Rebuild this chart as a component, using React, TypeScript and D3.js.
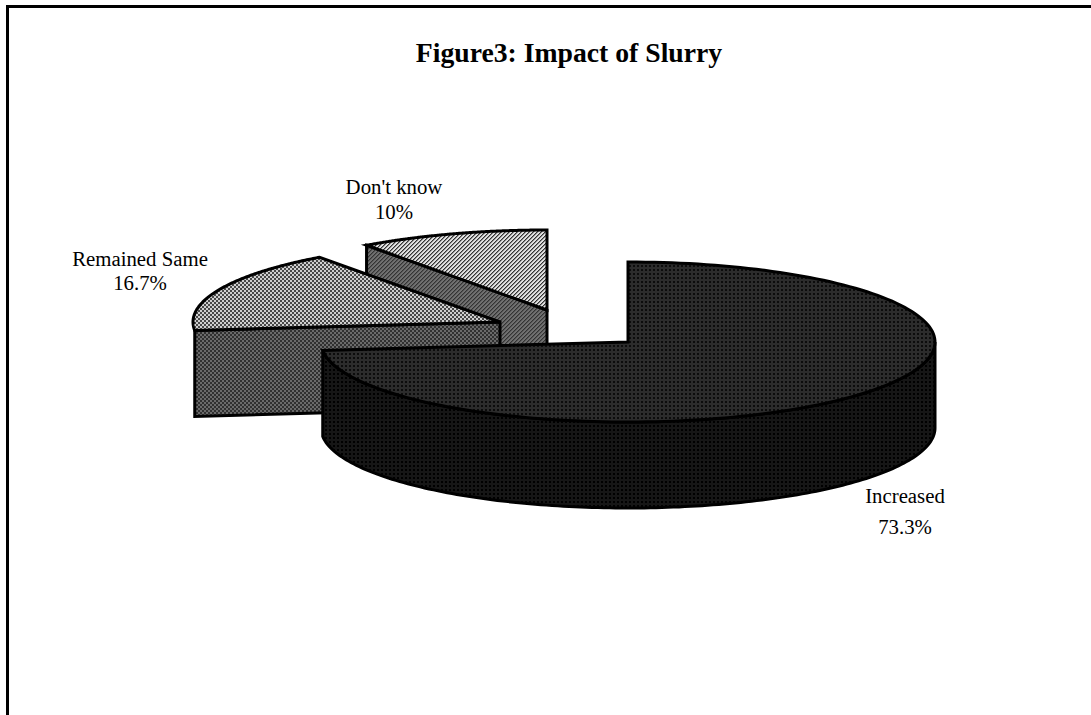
import React from "react";
import * as d3 from "d3";

const categories = ["Increased", "Remained Same", "Don't know"];
const shares = [73.3, 16.7, 10];
const valueLabels = ["73.3%", "16.7%", "10%"];
const titleText = "Figure3: Impact of Slurry";

const W = 1091;
const H = 715;
const CX = 628;
const CY = 342;
const RX = 307;
const RY = 80;
const DEPTH = 86;
const SERIF = "'Liberation Serif', 'Times New Roman', serif";

// Offsets that pull each wedge away from the pie centre
const explode = [
  { dx: 0, dy: 0 },
  { dx: -128, dy: -20 },
  { dx: -81, dy: -32 },
];

const topFill = ["url(#incTop)", "url(#sameTop)", "url(#dkTop)"];
const sideFill = ["url(#incSide)", "url(#sameSide)", "url(#dkSide)"];

const labelPos = [
  { x: 905, y1: 503, y2: 534 },
  { x: 140, y1: 266, y2: 290 },
  { x: 394, y1: 194, y2: 219 },
];

// Pie angles stay in radians, clockwise from twelve o'clock
const pie = d3.pie<number>().sort(null).value((d) => d);
const arcs = pie(shares);

const px = (a: number) => RX * Math.sin(a);
const py = (a: number) => -RY * Math.cos(a);

function topPath(start: number, end: number, ox: number, oy: number) {
  const p = d3.path();
  const cx = CX + ox;
  const cy = CY + oy;
  p.moveTo(cx, cy);
  p.lineTo(cx + px(start), cy + py(start));
  const steps = 160;
  for (let i = 1; i <= steps; i++) {
    const a = start + ((end - start) * i) / steps;
    p.lineTo(cx + px(a), cy + py(a));
  }
  p.closePath();
  return p.toString();
}

function rimPath(start: number, end: number, ox: number, oy: number) {
  const p = d3.path();
  const cx = CX + ox;
  const cy = CY + oy;
  const steps = 160;
  p.moveTo(cx + px(start), cy + py(start));
  for (let i = 1; i <= steps; i++) {
    const a = start + ((end - start) * i) / steps;
    p.lineTo(cx + px(a), cy + py(a));
  }
  for (let i = steps; i >= 0; i--) {
    const a = start + ((end - start) * i) / steps;
    p.lineTo(cx + px(a), cy + py(a) + DEPTH);
  }
  p.closePath();
  return p.toString();
}

function cutPath(angle: number, ox: number, oy: number) {
  const p = d3.path();
  const cx = CX + ox;
  const cy = CY + oy;
  p.moveTo(cx + px(angle), cy + py(angle));
  p.lineTo(cx, cy);
  p.lineTo(cx, cy + DEPTH);
  p.lineTo(cx + px(angle), cy + py(angle) + DEPTH);
  p.closePath();
  return p.toString();
}

function Dither({ id, size, bg, cells }: { id: string; size: number; bg: string; cells: [number, number, string][] }) {
  return (
    <pattern id={id} width={size} height={size} patternUnits="userSpaceOnUse">
      <rect width={size} height={size} fill={bg} />
      {cells.map(([x, y, c], i) => (
        <rect key={i} x={x} y={y} width={1} height={1} fill={c} />
      ))}
    </pattern>
  );
}

// Two-pixel checker cells on a four-pixel repeat
const checker = (c: string): [number, number, string][] => [
  [0, 0, c], [1, 0, c], [0, 1, c], [1, 1, c],
  [2, 2, c], [3, 2, c], [2, 3, c], [3, 3, c],
];

export default function App() {
  const stroke = { stroke: "#000", strokeWidth: 3, strokeLinejoin: "miter" as const };
  return (
    <svg width={W} height={H} style={{ position: "absolute", left: 0, top: 0, background: "#fff" }}>
      <defs>
        <Dither id="dkTop" size={4} bg="#e0e0e0" cells={[[0, 0, "#333"], [1, 3, "#333"], [2, 2, "#333"], [3, 1, "#333"], [1, 0, "#8a8a8a"], [2, 3, "#8a8a8a"], [3, 2, "#8a8a8a"], [0, 1, "#8a8a8a"]]} />
        <Dither id="dkSide" size={4} bg="#707070" cells={[[0, 0, "#333"], [1, 3, "#333"], [2, 2, "#333"], [3, 1, "#333"], [1, 0, "#555"], [2, 3, "#555"], [3, 2, "#555"], [0, 1, "#555"]]} />
        <Dither id="sameTop" size={4} bg="#cfcfcf" cells={checker("#484848")} />
        <Dither id="sameSide" size={4} bg="#6a6a6a" cells={checker("#303030")} />
        <Dither id="incTop" size={4} bg="#2c2c2c" cells={[[1, 1, "#0c0c0c"], [2, 1, "#0c0c0c"], [1, 2, "#0c0c0c"], [2, 2, "#0c0c0c"]]} />
        <Dither id="incSide" size={4} bg="#161616" cells={[[1, 1, "#000"], [2, 1, "#000"], [1, 2, "#000"], [2, 2, "#000"]]} />
      </defs>

      {/* Frame, open on the right and bottom */}
      <path d={`M7.5,${H}V6.5H${W}`} fill="none" stroke="#000" strokeWidth={3} />

      <text x={569} y={62} textAnchor="middle" fontFamily={SERIF} fontWeight="bold" fontSize={27.7} fill="#000">
        {titleText}
      </text>

      {/* Back wedges first, the large wedge last so it overlaps them */}
      {[2, 1].map((i) => {
        const a = arcs[i];
        const { dx, dy } = explode[i];
        return (
          <g key={categories[i]}>
            <path d={cutPath(a.startAngle, dx, dy)} fill={sideFill[i]} {...stroke} />
            <path d={topPath(a.startAngle, a.endAngle, dx, dy)} fill={topFill[i]} {...stroke} />
          </g>
        );
      })}
      <path d={rimPath(Math.PI / 2, arcs[0].endAngle, 0, 0)} fill={sideFill[0]} {...stroke} />
      <path d={topPath(arcs[0].startAngle, arcs[0].endAngle, 0, 0)} fill={topFill[0]} {...stroke} />

      {categories.map((c, i) => (
        <text key={c} textAnchor="middle" fontFamily={SERIF} fontSize={20.8} fill="#000">
          <tspan x={labelPos[i].x} y={labelPos[i].y1}>{c}</tspan>
          <tspan x={labelPos[i].x} y={labelPos[i].y2}>{valueLabels[i]}</tspan>
        </text>
      ))}
    </svg>
  );
}
